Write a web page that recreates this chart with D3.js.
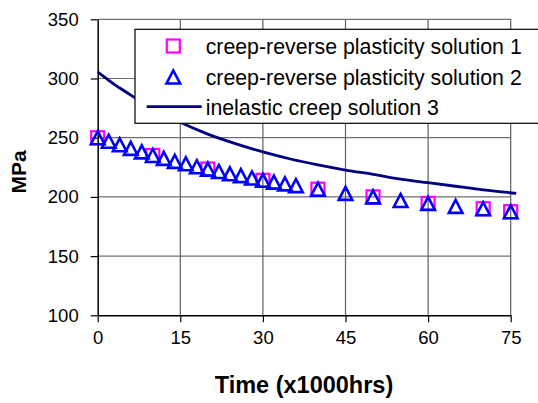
<!DOCTYPE html>
<html>
<head>
<meta charset="utf-8">
<script src="https://cdn.jsdelivr.net/npm/d3@7"></script>
<style>
  body { margin: 0; background: #fff; }
  svg { display: block; font-family: "Liberation Sans", Arial, sans-serif; }
</style>
</head>
<body>
<div id="chart"></div>
<script>
const w = 538;
const h = 403;

// solution 1 (squares)
const sqTime = [0, 10, 20, 30, 40, 50, 60, 70, 75];
const sqStress = [250, 235, 223.5, 214, 206.5, 200, 194.5, 190, 187.5];

// solution 2 (triangles)
const triTime = [0, 2, 4, 6, 8, 10, 12, 14, 16, 18, 20, 22, 24, 26, 28, 30, 32, 34, 36,
  40, 45, 50, 55, 60, 65, 70, 75];
const triStress = [250, 247, 244, 241, 238, 235, 232.5, 230, 228, 225.5, 223.5, 221.5, 219.5, 218, 216, 214, 212.5, 211, 209.5,
  206.5, 203, 200, 197, 194.5, 192, 190, 187.5];

// solution 3 (line)
const lineTime = [0, 1, 2, 3, 4, 5, 6, 7, 8, 10, 12, 15, 20, 25, 30, 35, 40, 45, 50, 55, 60, 65, 70, 76];
const lineStress = [305.5, 302, 298.5, 295, 292, 289, 286, 283, 280, 275, 270, 263, 253, 245, 238, 232, 227, 222.7, 219, 215, 212, 209, 206, 203];

const xTicks = [0, 15, 30, 45, 60, 75];
const yTicks = [100, 150, 200, 250, 300, 350];

const legendLabels = ['creep-reverse plasticity solution 1', 'creep-reverse plasticity solution 2', 'inelastic creep solution 3'];

const svg = d3.select('#chart').append('svg')
  .attr('width', w)
  .attr('height', h);

const x = d3.scaleLinear().domain([0, 75]).range([97.7, 510.7]);
const y = d3.scaleLinear().domain([100, 350]).range([315.3, 19.3]);

// gridlines
svg.append('g').selectAll('line').data(yTicks.slice(1)).enter().append('line')
  .attr('x1', x(0)).attr('x2', x(75))
  .attr('y1', d => y(d)).attr('y2', d => y(d))
  .attr('stroke', '#707070').attr('stroke-width', 1.2);
svg.append('g').selectAll('line').data(xTicks.slice(1)).enter().append('line')
  .attr('x1', d => x(d)).attr('x2', d => x(d))
  .attr('y1', y(100)).attr('y2', y(350))
  .attr('stroke', '#606060').attr('stroke-width', 1.2);

// axes
const xAxis = d3.axisBottom(x).tickValues(xTicks).tickSize(7).tickPadding(9).tickSizeOuter(0);
const gx = svg.append('g').attr('transform', 'translate(0,' + y(100) + ')').call(xAxis);
const yAxis = d3.axisLeft(y).tickValues(yTicks).tickSize(7).tickPadding(12).tickSizeOuter(0);
const gy = svg.append('g').attr('transform', 'translate(' + x(0) + ',0)').call(yAxis);
[gx, gy].forEach(g => {
  g.select('.domain').attr('stroke', '#000').attr('stroke-width', 1.5);
  g.selectAll('.tick line').attr('stroke', '#000').attr('stroke-width', 1.2);
  g.selectAll('.tick text').attr('font-size', 18.5).attr('fill', '#000')
    .attr('font-family', '"Liberation Sans", Arial, sans-serif');
});
gx.selectAll('.tick text').attr('dy', '0.71em');

// line series
const line = d3.line().x((d, i) => x(lineTime[i])).y(d => y(d)).curve(d3.curveMonotoneX);
svg.append('path').datum(lineStress)
  .attr('d', line)
  .attr('fill', 'none')
  .attr('stroke', '#000080')
  .attr('stroke-width', 2.8);

// squares
const sq = 13;
svg.append('g').selectAll('rect').data(sqStress).enter().append('rect')
  .attr('x', (d, i) => x(sqTime[i]) - sq / 2)
  .attr('y', d => y(d) - sq / 2)
  .attr('width', sq).attr('height', sq)
  .attr('fill', 'none').attr('stroke', '#ff00ff').attr('stroke-width', 2.2);

// triangles
const triPath = 'M0,-6.5L6.8,6.5L-6.8,6.5Z';
svg.append('g').selectAll('path').data(triStress).enter().append('path')
  .attr('transform', (d, i) => 'translate(' + x(triTime[i]) + ',' + y(d) + ')')
  .attr('d', triPath)
  .attr('fill', 'none').attr('stroke', '#0000ff').attr('stroke-width', 2.6)
  .attr('stroke-linejoin', 'miter');

// legend
const lg = svg.append('g');
lg.append('rect')
  .attr('x', 135).attr('y', 29.3).attr('width', 420).attr('height', 94)
  .attr('fill', '#fff').attr('stroke', '#000').attr('stroke-width', 1.2);
lg.append('rect')
  .attr('x', 173.3 - sq / 2).attr('y', 46 - sq / 2).attr('width', sq).attr('height', sq)
  .attr('fill', 'none').attr('stroke', '#ff00ff').attr('stroke-width', 2.2);
lg.append('path')
  .attr('transform', 'translate(173.3,77)')
  .attr('d', triPath)
  .attr('fill', 'none').attr('stroke', '#0000ff').attr('stroke-width', 2.6);
lg.append('line')
  .attr('x1', 146.7).attr('x2', 201.7).attr('y1', 106.7).attr('y2', 106.7)
  .attr('stroke', '#000080').attr('stroke-width', 2.8);
lg.selectAll('text').data(legendLabels).enter().append('text')
  .attr('x', 205.7)
  .attr('y', (d, i) => 46.5 + i * 30.4)
  .attr('dy', '0.36em')
  .attr('font-size', 21.3)
  .attr('fill', '#000')
  .text(d => d);

// axis titles
svg.append('text')
  .attr('x', 304).attr('y', 393)
  .attr('text-anchor', 'middle')
  .attr('font-size', 23.5).attr('font-weight', 'bold')
  .text('Time (x1000hrs)');
svg.append('text')
  .attr('transform', 'translate(26,172) rotate(-90)')
  .attr('text-anchor', 'middle')
  .attr('font-size', 21).attr('font-weight', 'bold')
  .text('MPa');
</script>
</body>
</html>
